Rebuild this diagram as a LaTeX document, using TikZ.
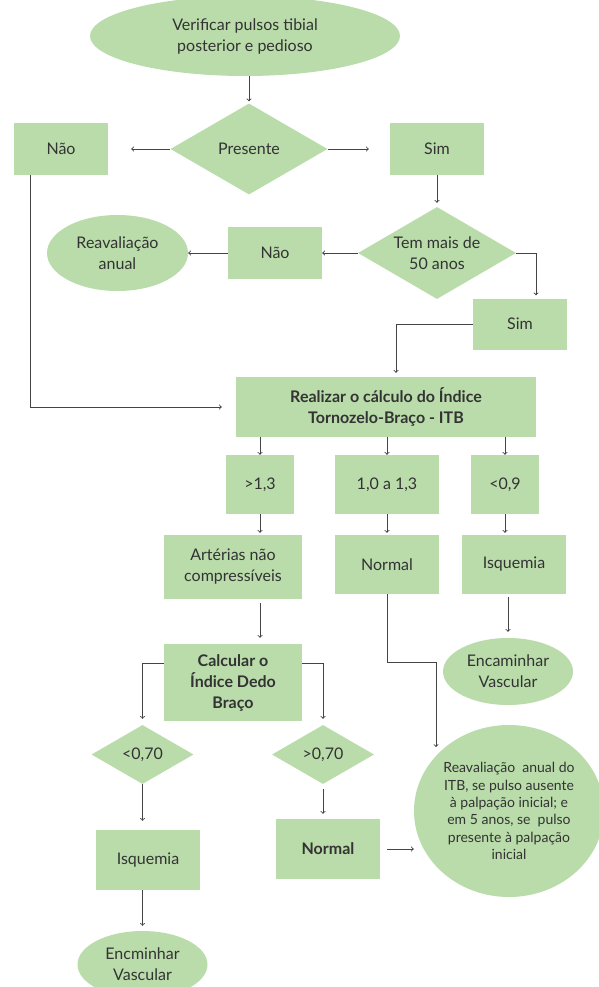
\documentclass[tikz,border=0pt]{standalone}
\usepackage{fontspec}
\setmainfont{Lato}
\usetikzlibrary{shapes.geometric}
\definecolor{leaf}{HTML}{B9DCAA}
\definecolor{ink}{HTML}{333333}
\definecolor{wire}{HTML}{444444}

\begin{document}
\begin{tikzpicture}[x=1pt,y=-1pt,
	every node/.style={text=ink, font=\fontsize{16}{21}\selectfont, align=center, inner sep=0pt},
	card/.style={rectangle, fill=leaf},
	strong/.style={font=\fontsize{16}{21}\selectfont\bfseries},
	term/.style={ellipse, fill=leaf},
	query/.style={diamond, fill=leaf, aspect=1.7},
	link/.style={draw=wire, line width=0.9pt, ->}]
	\useasboundingbox (0,0) rectangle (598,987);

	% Start
	\node[term, minimum width=310pt, minimum height=80pt] (start) at (245,36) {Verificar pulsos tibial\\posterior e pedioso};

	% Pulses present?
	\node[query, minimum width=157pt, minimum height=91pt] (pres) at (249,149) {Presente};
	\node[card, minimum width=94pt, minimum height=52pt] (nao1) at (61,149) {Não};
	\node[card, minimum width=94pt, minimum height=52pt] (sim1) at (437,149) {Sim};

	% Age
	\node[query, minimum width=158pt, minimum height=92pt] (idade) at (437,253) {Tem mais de\\50 anos};
	\node[card, minimum width=94pt, minimum height=52pt] (nao2) at (275,253) {Não};
	\node[term, minimum width=141pt, minimum height=76pt] (reav1) at (117.5,253) {Reavaliação\\anual};
	\node[card, minimum width=94pt, minimum height=51pt] (sim2) at (520,324) {Sim};

	% ITB
	\node[card, strong, minimum width=300pt, minimum height=60pt] (itb) at (386,407) {Realizar o cálculo do Índice\\Tornozelo-Braço - ITB};

	% Ranges
	\node[card, minimum width=68pt, minimum height=59pt] (acima) at (260,484.5) {>1,3};
	\node[card, minimum width=104pt, minimum height=59pt] (faixa) at (387,484.5) {1,0 a 1,3};
	\node[card, minimum width=68pt, minimum height=59pt] (abaixo) at (505,484.5) {<0,9};

	% Results
	\node[card, minimum width=138pt, minimum height=64pt] (arter) at (233,567) {Artérias não\\compressíveis};
	\node[card, minimum width=104pt, minimum height=59pt] (normal1) at (387,564.5) {Normal};
	\node[card, minimum width=104pt, minimum height=59pt] (isq1) at (514,564.5) {Isquemia};
	\node[term, minimum width=130pt, minimum height=67pt] (encv1) at (508,671.5) {Encaminhar\\Vascular};

	% Toe-brachial index
	\node[card, strong, minimum width=138pt, minimum height=77pt] (calc) at (233,682.5) {Calcular o\\Índice Dedo\\Braço};
	\node[query, minimum width=102pt, minimum height=59pt] (menor) at (142.5,754.5) {<0,70};
	\node[query, minimum width=102pt, minimum height=59pt] (maior) at (323,754.5) {>0,70};
	\node[card, minimum width=104pt, minimum height=60pt] (isq2) at (148,860) {Isquemia};
	\node[term, minimum width=130pt, minimum height=67pt] (encv2) at (142.5,964.5) {Encminhar\\Vascular};
	\node[card, strong, minimum width=104pt, minimum height=60pt] (normal2) at (328,849) {Normal};
	\node[term, minimum width=190pt, minimum height=172pt, font=\fontsize{14}{17.4}\selectfont] (reav2) at (509,811) {Reavaliação~ anual do\\ITB, se pulso ausente\\à palpação inicial; e\\em 5 anos, se~ pulso\\presente à palpação\\inicial};

	% Connectors
	\draw[link, shorten >=2pt] (pres |- start.south) -- (pres);
	\draw[link, shorten >=23pt] (pres) -- (nao1);
	\draw[link, shorten >=21pt] (pres) -- (sim1);
	\draw[link, shorten >=4pt] (sim1) -- (idade);
	\draw[link] (idade) -- (nao2);
	\draw[link] (nao2) -- (reav1);
	\draw[link] (idade.east) -| ([xshift=16pt,yshift=3pt]sim2.north);
	\draw[link] (sim2.west) -| ([xshift=10pt,yshift=4pt]itb.north);
	\draw[link] ([xshift=16.5pt]nao1.south west) |- ([xshift=-14pt]itb.west);

	\draw[link] (itb.south -| acima) -- (acima);
	\draw[link] (itb.south -| faixa) -- (faixa);
	\draw[link] (itb.south -| abaixo) -- (abaixo);
	\draw[link, shorten >=2pt] (acima) -- (acima |- arter.north);
	\draw[link, shorten >=2pt] (faixa) -- (normal1);
	\draw[link, shorten >=2pt] (abaixo) -- (abaixo |- isq1.north);

	\draw[link, shorten <=4pt, shorten >=6pt] (acima |- arter.south) -- (acima |- calc.north);
	\draw[link, shorten <=3pt, shorten >=6pt] (encv1 |- isq1.south) -- (encv1);
	\draw[link, shorten >=6pt] ([yshift=19.5pt]calc.west) -| (menor);
	\draw[link, shorten >=6pt] ([yshift=19.5pt]calc.east) -| (maior);
	\draw[link, shorten >=9pt] (menor) -- (menor |- isq2.north);
	\draw[link, shorten >=5pt] (menor |- isq2.south) -- (encv2);
	\draw[link, shorten <=5pt, shorten >=5pt] (maior) -- (maior |- normal2.north);
	\draw[link, shorten <=7pt] (normal2.east) -- (reav2.west |- normal2.east);

	% Normal ITB to follow-up
	\coordinate (dobra) at (436,662);
	\coordinate (ponta) at (436,747);
	\draw[link] (normal1.south) |- (dobra) -- (ponta);
\end{tikzpicture}
\end{document}
